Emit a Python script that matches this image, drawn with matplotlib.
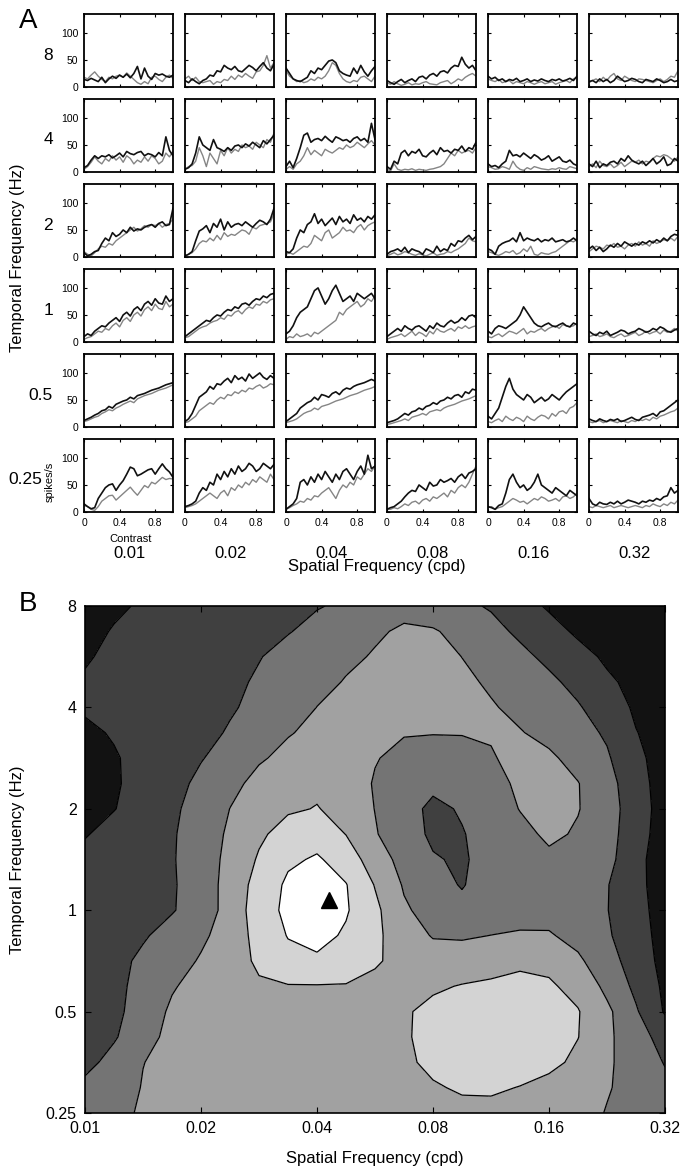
import numpy as np
import matplotlib
matplotlib.use("Agg")
import matplotlib.pyplot as plt

plt.rcParams["font.family"] = ["Liberation Sans", "DejaVu Sans"]

# ---------------- Panel A: contrast-response traces ----------------
SF_LABELS = ["0.01", "0.02", "0.04", "0.08", "0.16", "0.32"]
TF_LABELS = ["8", "4", "2", "1", "0.5", "0.25"]
contrast = np.linspace(0.0, 1.0, 26)

black_8hz = [
    [14, 12, 16, 13, 10, 18, 8, 15, 20, 16, 22, 18, 24, 17, 25, 38, 15, 35, 20, 14, 25, 22, 24, 20, 18, 22],
    [12, 8, 15, 10, 6, 12, 15, 22, 20, 30, 28, 40, 35, 32, 38, 30, 28, 34, 40, 36, 30, 38, 45, 35, 30, 42],
    [35, 25, 15, 12, 10, 14, 18, 30, 25, 35, 32, 40, 48, 50, 45, 30, 25, 22, 20, 35, 25, 40, 28, 20, 30, 38],
    [12, 8, 5, 10, 14, 8, 12, 15, 10, 18, 20, 15, 22, 25, 20, 28, 30, 26, 35, 40, 38, 55, 42, 35, 40, 30],
    [20, 15, 18, 12, 15, 10, 14, 12, 16, 10, 12, 15, 10, 13, 11, 15, 12, 10, 14, 12, 15, 11, 13, 16, 12, 20],
    [10, 12, 8, 15, 10, 14, 8, 12, 20, 15, 10, 12, 16, 14, 10, 8, 14, 12, 10, 15, 12, 8, 10, 14, 10, 12],
]
gray_8hz = [
    [18, 15, 22, 28, 20, 14, 10, 18, 15, 20, 22, 18, 26, 20, 14, 8, 5, 10, 6, 18, 20, 14, 10, 18, 22, 16],
    [15, 20, 12, 18, 10, 8, 10, 12, 5, 10, 8, 14, 12, 20, 14, 22, 18, 25, 20, 16, 28, 30, 40, 58, 35, 45],
    [30, 20, 15, 10, 12, 8, 10, 15, 12, 18, 15, 20, 30, 45, 40, 25, 15, 10, 8, 12, 10, 18, 20, 15, 10, 20],
    [8, 5, 10, 6, 3, 5, 8, 4, 6, 5, 8, 10, 6, 5, 4, 8, 10, 12, 6, 10, 15, 12, 18, 22, 25, 20],
    [15, 12, 10, 14, 8, 10, 12, 6, 10, 8, 6, 10, 8, 5, 8, 10, 6, 8, 10, 5, 8, 10, 12, 8, 15, 18],
    [8, 12, 15, 10, 18, 12, 20, 25, 15, 12, 20, 16, 12, 10, 15, 14, 12, 10, 8, 12, 15, 10, 14, 20, 18, 30],
]
black_4hz = [
    [8, 12, 22, 30, 25, 30, 28, 32, 26, 30, 35, 28, 38, 34, 32, 36, 38, 30, 34, 32, 28, 36, 30, 65, 40, 30],
    [5, 8, 15, 35, 65, 50, 45, 40, 60, 45, 42, 38, 45, 40, 48, 50, 45, 52, 48, 55, 50, 45, 58, 52, 60, 68],
    [10, 20, 8, 25, 45, 68, 72, 55, 60, 62, 58, 66, 60, 55, 65, 62, 58, 60, 55, 62, 65, 58, 62, 55, 90, 60],
    [10, 5, 20, 15, 35, 40, 30, 38, 35, 42, 30, 28, 35, 40, 32, 45, 38, 40, 35, 42, 40, 48, 38, 45, 42, 55],
    [15, 10, 12, 8, 15, 20, 40, 30, 32, 28, 35, 30, 25, 32, 28, 22, 25, 30, 20, 24, 28, 20, 18, 22, 15, 12],
    [15, 10, 20, 8, 15, 12, 18, 20, 15, 25, 20, 30, 22, 18, 15, 20, 12, 18, 25, 15, 20, 28, 12, 15, 25, 20],
]
gray_4hz = [
    [5, 10, 18, 28, 20, 15, 25, 20, 30, 22, 28, 18, 30, 25, 15, 22, 18, 28, 20, 30, 25, 15, 20, 35, 28, 38],
    [5, 10, 12, 20, 45, 30, 10, 35, 25, 15, 40, 30, 45, 35, 42, 38, 50, 45, 48, 42, 55, 50, 45, 60, 55, 72],
    [5, 10, 5, 15, 20, 30, 45, 32, 40, 35, 30, 42, 38, 35, 40, 45, 42, 50, 45, 48, 55, 50, 45, 52, 58, 50],
    [5, 2, 15, 5, 3, 5, 4, 6, 3, 5, 4, 3, 5, 6, 8, 10, 15, 25, 35, 30, 40, 35, 38, 40, 35, 45],
    [10, 8, 5, 6, 10, 8, 5, 20, 10, 5, 3, 8, 5, 10, 8, 6, 5, 4, 6, 5, 8, 6, 5, 10, 8, 6],
    [10, 15, 8, 20, 12, 10, 15, 8, 12, 18, 10, 15, 20, 18, 22, 15, 20, 18, 25, 30, 28, 32, 30, 25, 20, 28],
]
black_2hz = [
    [8, 2, 5, 10, 12, 25, 35, 30, 45, 38, 42, 50, 45, 55, 48, 52, 50, 55, 58, 60, 55, 62, 65, 58, 60, 90],
    [2, 5, 10, 30, 48, 52, 58, 45, 62, 55, 70, 50, 65, 55, 60, 62, 58, 65, 60, 55, 62, 68, 65, 60, 70, 90],
    [10, 8, 15, 35, 50, 45, 60, 65, 80, 62, 70, 58, 65, 72, 60, 75, 65, 70, 62, 78, 68, 72, 65, 75, 70, 78],
    [5, 10, 12, 15, 10, 18, 8, 15, 12, 10, 5, 15, 12, 8, 20, 10, 15, 12, 25, 20, 30, 28, 35, 40, 32, 38],
    [15, 12, 5, 20, 25, 28, 30, 35, 28, 45, 30, 35, 32, 30, 34, 28, 32, 30, 35, 28, 30, 32, 28, 30, 35, 30],
    [15, 20, 12, 18, 10, 15, 22, 18, 25, 20, 28, 24, 20, 25, 22, 28, 25, 30, 26, 32, 28, 35, 30, 38, 42, 40],
]
gray_2hz = [
    [10, 5, 2, 8, 15, 20, 18, 25, 22, 30, 35, 40, 45, 50, 55, 48, 52, 58, 55, 60, 58, 62, 55, 60, 62, 70],
    [2, 5, 8, 15, 25, 30, 28, 35, 30, 40, 32, 45, 38, 42, 40, 45, 50, 48, 42, 55, 52, 58, 60, 62, 65, 80],
    [5, 8, 5, 10, 15, 20, 18, 25, 40, 35, 30, 45, 50, 35, 40, 45, 55, 48, 50, 45, 55, 60, 50, 58, 62, 65],
    [2, 5, 8, 4, 6, 10, 8, 5, 3, 6, 4, 2, 5, 8, 3, 5, 6, 10, 8, 12, 15, 20, 25, 35, 30, 28],
    [10, 8, 5, 3, 6, 10, 8, 12, 5, 8, 15, 10, 20, 5, 3, 8, 6, 5, 8, 10, 15, 20, 25, 30, 28, 32],
    [10, 15, 20, 18, 15, 22, 20, 25, 18, 20, 15, 22, 25, 20, 28, 22, 25, 20, 30, 25, 28, 32, 30, 35, 30, 38],
]
black_1hz = [
    [10, 15, 12, 20, 25, 30, 28, 35, 40, 45, 38, 50, 55, 48, 60, 65, 58, 70, 75, 68, 80, 72, 70, 85, 75, 80],
    [10, 15, 20, 25, 30, 35, 40, 38, 45, 50, 48, 55, 60, 58, 65, 62, 70, 72, 68, 75, 80, 78, 85, 82, 88, 90],
    [15, 20, 30, 45, 55, 60, 65, 80, 95, 100, 85, 70, 80, 95, 105, 90, 75, 80, 85, 75, 90, 85, 80, 85, 90, 80],
    [10, 15, 20, 25, 20, 30, 25, 22, 28, 30, 25, 20, 30, 25, 35, 30, 28, 35, 40, 35, 38, 45, 40, 48, 50, 45],
    [20, 15, 25, 30, 28, 25, 30, 35, 40, 50, 65, 55, 45, 35, 30, 28, 32, 35, 30, 28, 32, 35, 30, 28, 35, 32],
    [20, 15, 12, 18, 15, 20, 12, 15, 18, 22, 20, 15, 18, 20, 25, 22, 18, 20, 25, 22, 28, 25, 20, 18, 22, 25],
]
gray_1hz = [
    [5, 8, 10, 15, 20, 18, 25, 22, 30, 35, 28, 40, 45, 38, 50, 55, 48, 60, 65, 58, 70, 62, 60, 75, 65, 70],
    [8, 10, 15, 20, 25, 28, 30, 35, 38, 40, 45, 42, 50, 48, 55, 58, 52, 60, 65, 62, 70, 68, 75, 72, 78, 80],
    [5, 10, 8, 15, 10, 12, 15, 10, 18, 15, 20, 25, 30, 35, 40, 55, 50, 60, 65, 70, 75, 65, 70, 80, 75, 85],
    [5, 8, 10, 12, 15, 10, 15, 20, 12, 18, 15, 10, 20, 15, 25, 20, 18, 22, 25, 20, 28, 25, 30, 25, 28, 30],
    [10, 8, 12, 15, 10, 15, 20, 18, 15, 20, 25, 15, 20, 18, 22, 25, 20, 25, 28, 30, 25, 32, 30, 28, 30, 35],
    [10, 12, 15, 10, 12, 15, 10, 8, 12, 15, 10, 12, 15, 18, 12, 15, 20, 15, 18, 20, 15, 22, 18, 20, 25, 20],
]
black_05hz = [
    [12, 15, 18, 22, 25, 30, 32, 38, 35, 42, 45, 48, 50, 55, 52, 58, 60, 62, 65, 68, 70, 72, 75, 78, 80, 82],
    [10, 15, 25, 40, 55, 60, 65, 75, 70, 80, 78, 85, 90, 82, 95, 88, 92, 85, 98, 90, 95, 100, 92, 88, 95, 90],
    [10, 15, 20, 25, 35, 40, 45, 48, 55, 50, 60, 58, 55, 62, 65, 60, 68, 72, 70, 75, 78, 80, 82, 85, 88, 85],
    [8, 10, 12, 15, 20, 25, 22, 28, 30, 35, 32, 38, 40, 45, 42, 48, 50, 55, 52, 58, 60, 55, 65, 62, 70, 68],
    [20, 15, 25, 35, 55, 75, 90, 70, 60, 55, 50, 60, 55, 45, 50, 55, 48, 52, 60, 55, 50, 58, 65, 70, 75, 80],
    [15, 12, 10, 15, 12, 10, 14, 12, 15, 10, 12, 15, 18, 14, 12, 18, 20, 22, 25, 20, 28, 30, 35, 40, 45, 50],
]
gray_05hz = [
    [10, 12, 15, 18, 20, 25, 28, 32, 30, 35, 38, 42, 45, 48, 45, 52, 55, 58, 60, 62, 65, 68, 70, 72, 75, 78],
    [8, 10, 15, 20, 30, 35, 40, 45, 42, 50, 55, 52, 60, 58, 65, 62, 68, 65, 72, 70, 75, 78, 72, 75, 80, 78],
    [8, 10, 12, 15, 20, 25, 28, 30, 35, 32, 38, 40, 42, 45, 48, 50, 52, 55, 58, 60, 62, 65, 68, 70, 72, 75],
    [5, 6, 8, 10, 12, 15, 12, 18, 20, 22, 25, 22, 28, 30, 32, 30, 35, 38, 40, 42, 45, 48, 50, 52, 55, 58],
    [10, 8, 12, 15, 10, 20, 15, 12, 18, 15, 10, 20, 15, 12, 18, 22, 20, 15, 25, 20, 28, 30, 25, 35, 38, 45],
    [10, 8, 10, 12, 8, 10, 12, 10, 8, 12, 10, 8, 12, 10, 14, 12, 15, 12, 18, 15, 20, 22, 25, 28, 30, 35],
]
black_025hz = [
    [15, 10, 6, 8, 25, 35, 45, 50, 52, 40, 50, 58, 70, 83, 80, 67, 70, 74, 78, 80, 70, 80, 89, 80, 74, 64],
    [10, 12, 15, 20, 35, 45, 40, 55, 50, 70, 60, 75, 65, 80, 70, 85, 75, 80, 90, 85, 75, 80, 90, 85, 80, 88],
    [5, 10, 15, 25, 55, 60, 50, 65, 55, 70, 60, 75, 65, 55, 70, 60, 75, 80, 70, 60, 75, 85, 70, 105, 80, 85],
    [5, 8, 10, 15, 20, 28, 35, 40, 38, 50, 45, 40, 55, 48, 50, 60, 55, 58, 62, 55, 65, 70, 62, 72, 75, 80],
    [10, 8, 5, 12, 15, 35, 60, 70, 55, 45, 50, 40, 45, 55, 70, 50, 45, 40, 35, 45, 40, 35, 30, 40, 35, 30],
    [25, 15, 12, 18, 15, 14, 18, 15, 20, 15, 18, 22, 20, 18, 15, 20, 18, 22, 20, 25, 22, 28, 30, 45, 35, 40],
]
gray_025hz = [
    [12, 10, 5, 3, 10, 20, 25, 30, 31, 22, 28, 34, 40, 46, 38, 31, 40, 49, 45, 55, 52, 58, 64, 60, 62, 61],
    [8, 10, 12, 15, 20, 25, 30, 35, 30, 25, 35, 40, 30, 45, 40, 50, 45, 55, 50, 60, 55, 65, 60, 55, 70, 60],
    [5, 8, 12, 15, 20, 18, 25, 22, 30, 28, 35, 40, 45, 35, 25, 40, 50, 45, 55, 50, 65, 60, 70, 80, 75, 85],
    [5, 5, 8, 6, 10, 15, 12, 18, 20, 15, 22, 25, 20, 28, 25, 30, 35, 28, 40, 35, 45, 50, 45, 55, 70, 85],
    [8, 10, 5, 8, 10, 15, 20, 25, 22, 18, 20, 15, 20, 25, 22, 28, 25, 20, 22, 25, 20, 28, 30, 25, 28, 35],
    [10, 8, 12, 10, 8, 10, 12, 8, 10, 12, 10, 8, 10, 12, 10, 8, 12, 10, 15, 12, 10, 15, 12, 18, 15, 22],
]

black_rows = [black_8hz, black_4hz, black_2hz, black_1hz, black_05hz, black_025hz]
gray_rows = [gray_8hz, gray_4hz, gray_2hz, gray_1hz, gray_05hz, gray_025hz]

# ---------------- Panel B: response map over SF x TF ----------------
sf_grid = [0.01 * 2 ** (k / 4) for k in range(21)]   # quarter-octave steps 0.01..0.32 cpd
tf_grid = [0.25 * 2 ** (k / 4) for k in range(21)]   # quarter-octave steps 0.25..8 Hz
# rows: temporal frequency from 0.25 Hz (first row) up to 8 Hz (last row)
response_map = [
    [2.40, 2.75, 3.12, 3.30, 3.38, 3.42, 3.45, 3.47, 3.50, 3.52, 3.55, 3.60, 3.70, 3.78, 3.78, 3.70, 3.55, 3.35, 2.95, 2.60, 2.30],
    [2.20, 2.55, 3.05, 3.30, 3.40, 3.45, 3.48, 3.50, 3.52, 3.55, 3.60, 3.70, 3.92, 4.10, 4.12, 3.97, 3.75, 3.50, 3.08, 2.60, 2.20],
    [1.75, 2.30, 2.98, 3.30, 3.40, 3.45, 3.50, 3.52, 3.55, 3.58, 3.65, 3.85, 4.20, 4.45, 4.50, 4.45, 4.22, 3.80, 3.15, 2.50, 1.95],
    [1.50, 1.90, 2.70, 3.25, 3.40, 3.50, 3.55, 3.60, 3.60, 3.62, 3.72, 3.90, 4.30, 4.50, 4.60, 4.60, 4.45, 4.02, 3.18, 2.40, 1.60],
    [1.30, 1.75, 2.50, 3.15, 3.40, 3.55, 3.65, 3.70, 3.70, 3.70, 3.75, 3.92, 4.20, 4.40, 4.50, 4.50, 4.40, 4.05, 3.20, 2.10, 0.90],
    [1.35, 1.75, 2.33, 2.91, 3.40, 3.70, 3.90, 3.95, 3.95, 3.93, 3.80, 3.75, 3.88, 4.05, 4.15, 4.20, 4.12, 3.70, 2.74, 1.77, 0.80],
    [1.40, 1.77, 2.16, 2.62, 3.09, 3.62, 4.15, 4.70, 4.88, 4.70, 4.10, 3.70, 3.45, 3.40, 3.60, 3.85, 3.75, 3.15, 2.40, 1.50, 0.70],
    [1.30, 1.61, 1.91, 2.34, 2.81, 3.50, 4.32, 5.05, 5.25, 4.89, 4.19, 3.47, 2.93, 2.90, 3.01, 3.10, 3.08, 2.70, 2.12, 1.38, 0.65],
    [1.25, 1.48, 1.70, 1.93, 2.50, 3.38, 4.55, 5.23, 5.48, 5.09, 4.21, 3.13, 2.60, 2.20, 2.45, 2.60, 2.65, 2.50, 2.03, 1.30, 0.60],
    [1.20, 1.43, 1.67, 1.90, 2.52, 3.36, 4.41, 5.17, 5.39, 5.04, 3.95, 2.90, 2.26, 1.95, 2.40, 2.60, 2.65, 2.50, 2.05, 1.24, 0.55],
    [1.20, 1.44, 1.69, 1.93, 2.51, 3.28, 4.11, 4.83, 5.12, 4.52, 3.48, 2.65, 2.07, 1.88, 2.40, 2.70, 2.85, 2.75, 2.30, 1.25, 0.50],
    [0.95, 1.27, 1.59, 1.91, 2.49, 3.16, 3.82, 4.45, 4.55, 3.98, 3.07, 2.39, 1.84, 1.95, 2.37, 2.78, 3.15, 2.91, 2.37, 1.38, 0.55],
    [0.45, 0.97, 1.40, 1.84, 2.39, 3.01, 3.40, 3.85, 4.05, 3.60, 2.98, 2.32, 1.80, 2.09, 2.57, 3.03, 3.40, 3.04, 2.44, 1.43, 0.60],
    [0.40, 0.90, 1.32, 1.73, 2.20, 2.74, 3.30, 3.65, 3.75, 3.45, 2.93, 2.50, 2.22, 2.30, 2.70, 3.17, 3.38, 3.03, 2.36, 1.33, 0.60],
    [0.50, 0.93, 1.27, 1.61, 1.95, 2.40, 2.88, 3.30, 3.55, 3.45, 3.05, 2.74, 2.46, 2.63, 2.93, 3.28, 3.15, 2.67, 2.11, 1.20, 0.60],
    [0.85, 1.07, 1.31, 1.55, 1.80, 2.07, 2.49, 2.92, 3.30, 3.40, 3.20, 3.06, 3.05, 3.05, 3.08, 3.05, 2.73, 2.33, 1.87, 1.03, 0.60],
    [1.10, 1.26, 1.43, 1.59, 1.76, 1.92, 2.21, 2.61, 3.01, 3.30, 3.58, 3.87, 3.65, 3.36, 3.08, 2.76, 2.42, 2.08, 1.50, 0.85, 0.60],
    [1.05, 1.21, 1.38, 1.54, 1.71, 1.87, 2.08, 2.41, 2.74, 3.06, 3.38, 3.69, 3.50, 3.19, 2.86, 2.52, 2.18, 1.72, 1.14, 0.75, 0.55],
    [0.95, 1.12, 1.29, 1.46, 1.63, 1.80, 1.97, 2.23, 2.51, 2.80, 3.09, 3.43, 3.34, 2.99, 2.61, 2.22, 1.78, 1.29, 0.85, 0.65, 0.50],
    [0.88, 1.03, 1.19, 1.34, 1.50, 1.65, 1.81, 1.96, 2.23, 2.54, 2.84, 3.18, 3.09, 2.68, 2.27, 1.82, 1.31, 0.85, 0.65, 0.50, 0.40],
    [0.77, 0.92, 1.06, 1.21, 1.36, 1.51, 1.65, 1.80, 1.95, 2.14, 2.36, 2.58, 2.40, 2.18, 1.91, 1.33, 0.89, 0.64, 0.50, 0.40, 0.30],
]
contour_levels = [0, 1, 2, 3, 4, 5, 6]
band_colors = ["#121212", "#404040", "#747474", "#a1a1a1", "#d3d3d3", "#ffffff"]
peak_sf, peak_tf = 0.0429, 1.07
sf_ticks = [0.01, 0.02, 0.04, 0.08, 0.16, 0.32]
tf_ticks = [0.25, 0.5, 1, 2, 4, 8]

# ---------------- figure ----------------
W, H = 681, 1172
fig = plt.figure(figsize=(W / 100, H / 100), dpi=100)


def px_axes(left, top, width, height):
    return fig.add_axes([left / W, 1 - (top + height) / H, width / W, height / H])


for r in range(6):
    for c in range(6):
        ax = px_axes(84 + 101 * c, 14 + 85 * r, 89, 73)
        ax.plot(contrast, gray_rows[r][c], color="#858585", lw=1.0)
        ax.plot(contrast, black_rows[r][c], color="#111111", lw=1.2)
        ax.set_xlim(0, 1)
        ax.set_ylim(0, 135)
        ax.set_xticks([0, 0.4, 0.8])
        ax.set_yticks([0, 50, 100])
        ax.tick_params(direction="in", length=2.5, width=0.8, top=True, right=True,
                       labelsize=7.5, pad=4)
        ax.set_xticklabels(["0", "0.4", "0.8"] if r == 5 else [])
        ax.set_yticklabels(["0", "50", "100"] if c == 0 else [])
        for s in ax.spines.values():
            s.set_linewidth(1.3)
    fig.text((42 if r == 5 else 53) / W, 1 - (14 + 85 * r + 41) / H, TF_LABELS[r],
             ha="right", va="center", fontsize=12.5)

for c in range(6):
    fig.text((84 + 101 * c + 46) / W, 1 - 553 / H, SF_LABELS[c], ha="center",
             va="center", fontsize=12)

fig.text(131 / W, 1 - 539 / H, "Contrast", ha="center", va="center", fontsize=8)
fig.text(50 / W, 1 - 482 / H, "spikes/s", ha="center", va="center", fontsize=8,
         rotation=90)
fig.text(377 / W, 1 - 567 / H, "Spatial Frequency (cpd)", ha="center", va="center",
         fontsize=12)
fig.text(18 / W, 1 - 258 / H, "Temporal Frequency (Hz)", ha="center", va="center",
         fontsize=12, rotation=90)
fig.text(28 / W, 1 - 21 / H, "A", ha="center", va="center", fontsize=20)

# Panel B
axb = px_axes(85, 606, 580, 507)
SF, TF = np.meshgrid(sf_grid, tf_grid)
Z = np.array(response_map)
axb.contourf(SF, TF, Z, levels=contour_levels, colors=band_colors)
axb.contour(SF, TF, Z, levels=contour_levels[1:-1], colors="black", linewidths=0.9)
axb.plot([peak_sf], [peak_tf], marker="^", color="black", markersize=11, ls="none")
axb.set_xscale("log", base=2)
axb.set_yscale("log", base=2)
axb.set_xlim(0.01, 0.32)
axb.set_ylim(0.25, 8)
axb.set_xticks(sf_ticks)
axb.set_xticklabels([str(v) for v in sf_ticks])
axb.set_yticks(tf_ticks)
axb.set_yticklabels([str(v) for v in tf_ticks])
axb.minorticks_off()
axb.tick_params(direction="in", length=4, width=0.8, top=True, right=True,
                labelsize=11.5, pad=6)
for s in axb.spines.values():
    s.set_linewidth(1.2)
fig.text(375 / W, 1 - 1158 / H, "Spatial Frequency (cpd)", ha="center", va="center",
         fontsize=12)
fig.text(18 / W, 1 - 860 / H, "Temporal Frequency (Hz)", ha="center", va="center",
         fontsize=12, rotation=90)
fig.text(28 / W, 1 - 604 / H, "B", ha="center", va="center", fontsize=20)

fig.savefig("out.png", dpi=100)
